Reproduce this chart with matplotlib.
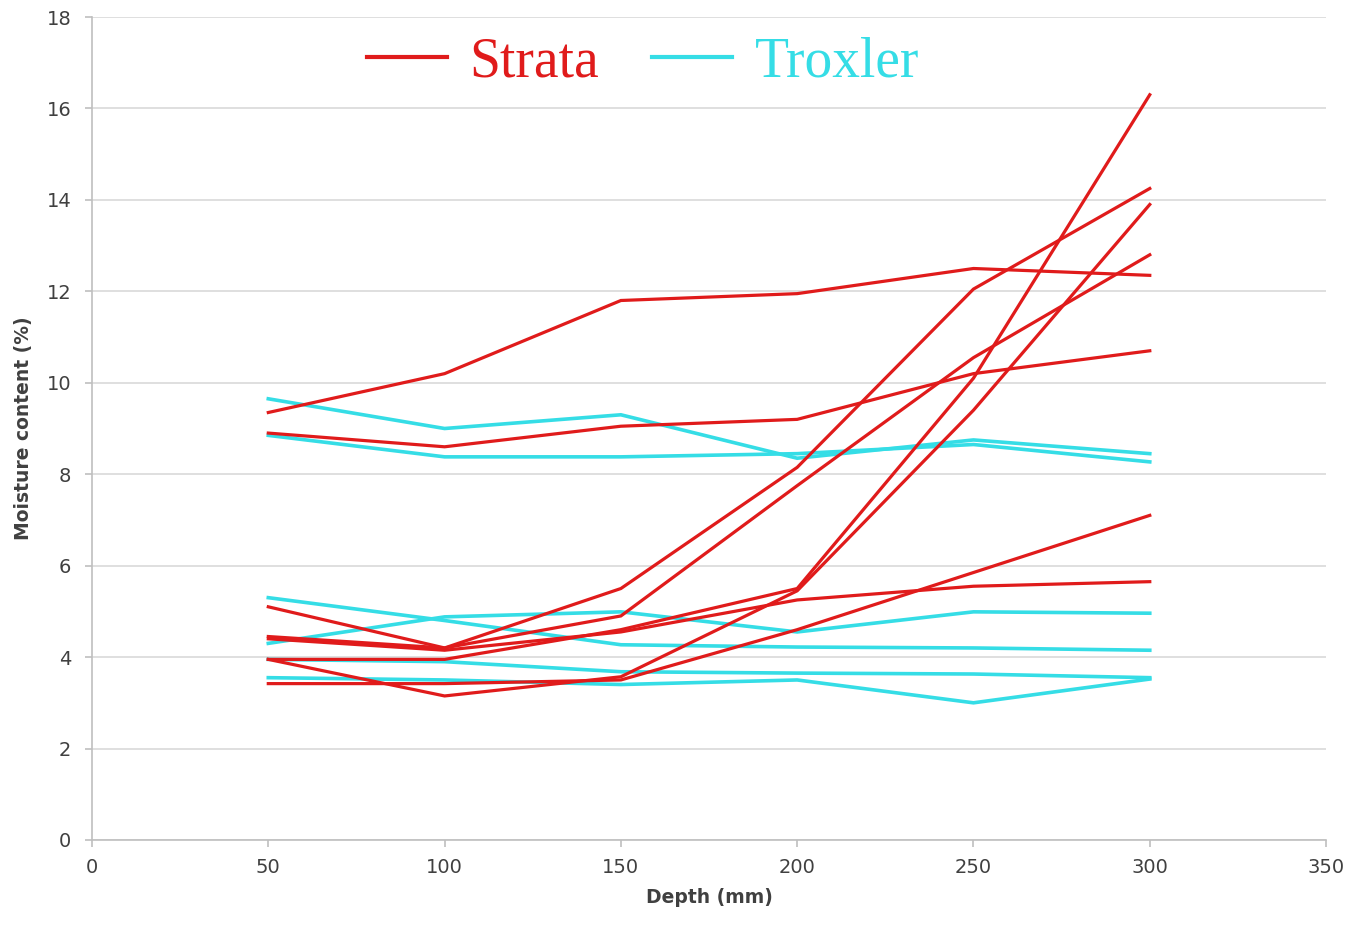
import matplotlib.pyplot as plt

# depth values (mm)
depth = [50, 100, 150, 200, 250, 300]

# Strata probe readings, moisture content (%)
strata_1 = [9.35, 10.2, 11.8, 11.95, 12.5, 12.35]
strata_2 = [8.9, 8.6, 9.05, 9.2, 10.2, 10.7]
strata_3 = [5.1, 4.2, 5.5, 8.15, 12.05, 14.25]
strata_4 = [4.45, 4.2, 4.9, 7.75, 10.55, 12.8]
strata_5 = [4.4, 4.15, 4.55, 5.25, 5.55, 5.65]
strata_6 = [3.95, 3.95, 4.6, 5.5, 10.1, 16.3]
strata_7 = [3.95, 3.15, 3.57, 5.45, 9.4, 13.9]
strata_8 = [3.42, 3.42, 3.5, 4.6, 5.85, 7.1]

# Troxler gauge readings, moisture content (%)
troxler_1 = [9.65, 9.0, 9.3, 8.35, 8.75, 8.45]
troxler_2 = [8.85, 8.38, 8.38, 8.45, 8.65, 8.27]
troxler_3 = [5.3, 4.8, 4.27, 4.22, 4.2, 4.15]
troxler_4 = [4.3, 4.88, 4.99, 4.55, 4.99, 4.96]
troxler_5 = [3.95, 3.9, 3.68, 3.65, 3.63, 3.55]
troxler_6 = [3.55, 3.5, 3.4, 3.5, 3.0, 3.52]

strata = [strata_1, strata_2, strata_3, strata_4,
          strata_5, strata_6, strata_7, strata_8]
troxler = [troxler_1, troxler_2, troxler_3, troxler_4, troxler_5, troxler_6]

red = '#e01b1b'
cyan = '#35dde6'

fig = plt.figure(figsize=(13.49, 9.26), dpi=100)
ax = fig.add_axes([0.0682, 0.0929, 0.9148, 0.8887])

for i, s in enumerate(troxler):
    ax.plot(depth, s, color=cyan, lw=2.6, label='Troxler' if i == 0 else None,
            solid_joinstyle='miter')
for i, s in enumerate(strata):
    ax.plot(depth, s, color=red, lw=2.3, label='Strata' if i == 0 else None,
            solid_joinstyle='miter')

ax.set_xlim(0, 350)
ax.set_ylim(0, 18)
ax.set_xticks(range(0, 351, 50))
ax.set_yticks(range(0, 19, 2))
ax.grid(axis='y', color='#d9d9d9', lw=1.2)
ax.set_axisbelow(True)
for side in ['top', 'right']:
    ax.spines[side].set_visible(False)
for side in ['left', 'bottom']:
    ax.spines[side].set_color('#bfbfbf')
    ax.spines[side].set_linewidth(1.2)
ax.tick_params(axis='both', colors='#bfbfbf', labelcolor='#404040',
               labelsize=14, length=5, width=1.2)
ax.tick_params(axis='x', pad=8)
ax.tick_params(axis='y', pad=10)

ax.set_xlabel('Depth (mm)', fontsize=13.5, fontweight='bold', color='#404040', labelpad=8)
ax.set_ylabel('Moisture content (%)', fontsize=13.5, fontweight='bold', color='#404040', labelpad=10)

handles, labels = ax.get_legend_handles_labels()
order = [labels.index('Strata'), labels.index('Troxler')]
leg = ax.legend([handles[j] for j in order], [labels[j] for j in order],
                loc='upper left', bbox_to_anchor=(0.182, 1.037), ncol=2, frameon=False,
                prop={'family': 'Liberation Serif', 'size': 40},
                handlelength=1.45, columnspacing=0.95, handletextpad=0.4)
for t, c in zip(leg.get_texts(), [red, cyan]):
    t.set_color(c)
for h in leg.get_lines():
    h.set_linewidth(3)

fig.savefig('out.png', dpi=100)
